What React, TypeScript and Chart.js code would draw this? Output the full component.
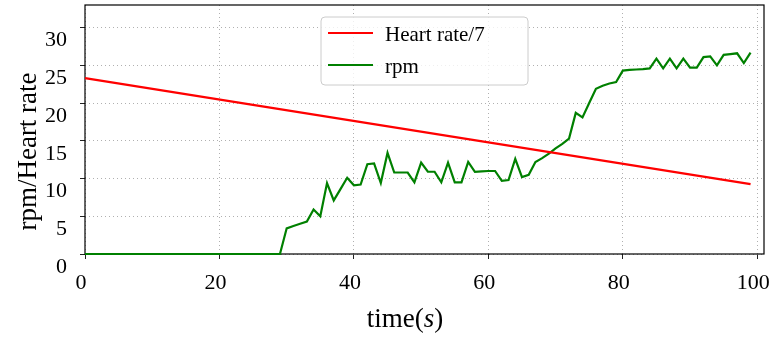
import React, { useEffect, useRef } from "react";
import { Chart, registerables } from "chart.js";

Chart.register(...registerables);

// rpm sampled once per second, t = 0 .. 99 s
const rpm: number[] = [
  0, 0, 0, 0, 0, 0, 0, 0, 0, 0,
  0, 0, 0, 0, 0, 0, 0, 0, 0, 0,
  0, 0, 0, 0, 0, 0, 0, 0, 0, 0,
  3.4, 3.7, 4.0, 4.3, 5.9, 5.0, 9.4, 7.1, 8.6, 10.1,
  9.1, 9.2, 11.9, 12.0, 9.4, 13.4, 10.8, 10.8, 10.8, 9.5,
  12.1, 10.9, 10.9, 9.5, 12.1, 9.5, 9.5, 12.2, 10.9, 10.95,
  11.0, 11.0, 9.7, 9.8, 12.6, 10.2, 10.5, 12.2, 12.7, 13.3,
  14.0, 14.6, 15.3, 18.7, 18.1, 20.0, 21.9, 22.3, 22.6, 22.8,
  24.3, 24.4, 24.45, 24.5, 24.6, 25.9, 24.6, 25.9, 24.6, 25.9,
  24.7, 24.7, 26.1, 26.2, 25.0, 26.4, 26.5, 26.6, 25.3, 26.7,
];

const heartTime: number[] = [0, 99];
const heartRate7: number[] = [23.3, 9.25];

const xTicks: number[] = [0, 20, 40, 60, 80, 100];
const yTicks: number[] = [0, 5, 10, 15, 20, 25, 30];

const legendLabels: string[] = ["Heart rate/7", "rpm"];
const seriesColors: string[] = ["#ff0000", "#008000"];
const xTitleParts: string[] = ["time(", "s", ")"];
const yTitle = "rpm/Heart rate";

const SERIF = "'Liberation Serif', 'Times New Roman', serif";

const framePlugin = {
  id: "frame",
  beforeDatasetsDraw(chart: any) {
    const { ctx, chartArea: a } = chart;
    ctx.save();
    ctx.strokeStyle = "#000";
    ctx.lineWidth = 1.2;
    ctx.strokeRect(a.left, a.top, a.right - a.left, a.bottom - a.top);
    ctx.restore();
  },
};

const decorPlugin = {
  id: "decor",
  afterDraw(chart: any) {
    const { ctx } = chart;
    ctx.save();
    // legend box
    const bx = 321, by = 17, bw = 207, bh = 68, r = 4;
    ctx.beginPath();
    ctx.moveTo(bx + r, by);
    ctx.arcTo(bx + bw, by, bx + bw, by + bh, r);
    ctx.arcTo(bx + bw, by + bh, bx, by + bh, r);
    ctx.arcTo(bx, by + bh, bx, by, r);
    ctx.arcTo(bx, by, bx + bw, by, r);
    ctx.closePath();
    ctx.fillStyle = "rgba(255,255,255,0.8)";
    ctx.fill();
    ctx.strokeStyle = "#cccccc";
    ctx.lineWidth = 1;
    ctx.stroke();

    const rowY = [33, 65];
    legendLabels.forEach((lab, i) => {
      ctx.beginPath();
      ctx.strokeStyle = seriesColors[i];
      ctx.lineWidth = 2.2;
      ctx.moveTo(328, rowY[i]);
      ctx.lineTo(373, rowY[i]);
      ctx.stroke();
      ctx.fillStyle = "#000";
      ctx.font = `21px ${SERIF}`;
      ctx.textAlign = "left";
      ctx.textBaseline = "alphabetic";
      ctx.fillText(lab, 385, rowY[i] + 8);
    });

    // x title
    ctx.font = `27px ${SERIF}`;
    const w0 = ctx.measureText(xTitleParts[0]).width;
    ctx.font = `italic 27px ${SERIF}`;
    const w1 = ctx.measureText(xTitleParts[1]).width;
    ctx.font = `27px ${SERIF}`;
    const w2 = ctx.measureText(xTitleParts[2]).width;
    const total = w0 + w1 + w2;
    let x = 405 - total / 2;
    const base = 327;
    ctx.textAlign = "left";
    ctx.textBaseline = "alphabetic";
    ctx.fillStyle = "#000";
    ctx.font = `27px ${SERIF}`;
    ctx.fillText(xTitleParts[0], x, base);
    x += w0;
    ctx.font = `italic 27px ${SERIF}`;
    ctx.fillText(xTitleParts[1], x, base);
    x += w1;
    ctx.font = `27px ${SERIF}`;
    ctx.fillText(xTitleParts[2], x, base);

    // y title
    ctx.translate(36, 151.5);
    ctx.rotate(-Math.PI / 2);
    ctx.textAlign = "center";
    ctx.textBaseline = "alphabetic";
    ctx.font = `27px ${SERIF}`;
    ctx.fillText(yTitle, 0, 0);
    ctx.restore();
  },
};

export default function App() {
  const ref = useRef<HTMLCanvasElement | null>(null);

  useEffect(() => {
    document.body.style.margin = "0";
    if (!ref.current) return;
    const chart = new Chart(ref.current, {
      type: "line",
      data: {
        datasets: [
          {
            label: legendLabels[0],
            data: heartTime.map((t, i) => ({ x: t, y: heartRate7[i] })),
            borderColor: seriesColors[0],
            backgroundColor: seriesColors[0],
            borderWidth: 2.2,
            pointRadius: 0,
            tension: 0,
            clip: 4,
          },
          {
            label: legendLabels[1],
            data: rpm.map((v, i) => ({ x: i, y: v })),
            borderColor: seriesColors[1],
            backgroundColor: seriesColors[1],
            borderWidth: 2.2,
            pointRadius: 0,
            tension: 0,
            clip: 4,
          },
        ],
      },
      options: {
        responsive: false,
        animation: false,
        events: [],
        layout: { padding: { left: 0, top: 5, right: 8, bottom: 0 } },
        plugins: { legend: { display: false }, tooltip: { enabled: false } },
        scales: {
          x: {
            type: "linear",
            min: 0,
            max: 101,
            afterBuildTicks: (s: any) => {
              s.ticks = xTicks.map((v) => ({ value: v }));
            },
            afterFit: (s: any) => {
              s.height = 87;
              s.paddingLeft = 0;
              s.paddingRight = 0;
            },
            grid: {
              color: "#b0b0b0",
              lineWidth: 1,
              tickColor: "#222",
              tickLength: 5,
              tickWidth: 1,
            },
            border: { display: false, dash: [1, 3] },
            ticks: {
              font: { family: SERIF, size: 22 },
              color: "#000",
              padding: 11,
              labelOffset: -4,
              maxRotation: 0,
              autoSkip: false,
            },
          },
          y: {
            type: "linear",
            min: 0,
            max: 33,
            afterBuildTicks: (s: any) => {
              s.ticks = yTicks.map((v) => ({ value: v }));
            },
            afterFit: (s: any) => {
              s.width = 85;
              s.paddingTop = 0;
              s.paddingBottom = 0;
            },
            grid: {
              color: "#b0b0b0",
              lineWidth: 1,
              tickColor: "#222",
              tickLength: 5,
              tickWidth: 1,
            },
            border: { display: false, dash: [1, 3] },
            ticks: {
              font: { family: SERIF, size: 22 },
              color: "#000",
              padding: 13,
              labelOffset: 13,
              autoSkip: false,
            },
          },
        },
      },
      plugins: [framePlugin, decorPlugin],
    });
    return () => chart.destroy();
  }, []);

  return (
    <div style={{ width: 772, height: 341 }}>
      <canvas ref={ref} width={772} height={341} style={{ display: "block" }} />
    </div>
  );
}
